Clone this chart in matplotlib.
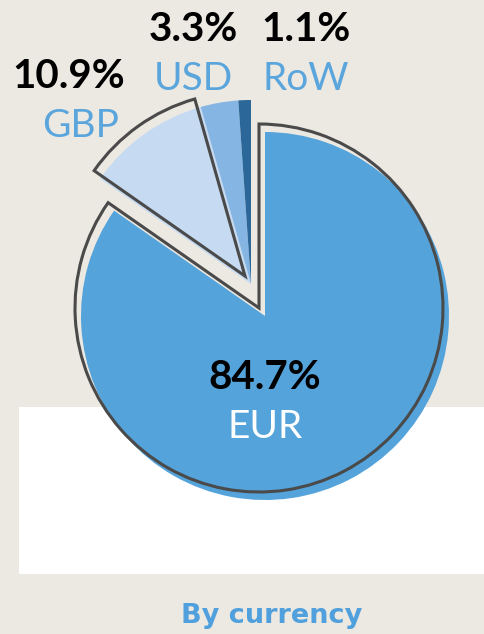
import matplotlib.pyplot as plt
from matplotlib.patches import Rectangle

currencies = ["EUR", "GBP", "USD", "RoW"]
shares = [84.7, 10.9, 3.3, 1.1]
fill_colors = ["#54A3DA", "#C6DBF2", "#85B5E3", "#2B6799"]
outlined = [True, True, False, False]
exploded = [False, True, True, True]

W, H = 485, 634
BG = "#ECE8E2"
EDGE = "#4A4A4A"
LABEL_BLUE = "#5AA5DC"

fig = plt.figure(figsize=(W / 100, H / 100), dpi=100, facecolor=BG)
ax = fig.add_axes([0, 0, 1, 1])
ax.set_facecolor(BG)

# white panel behind the lower half of the pie
ax.add_patch(Rectangle((19, 407), W - 19, 167, facecolor="white", edgecolor="none", zorder=0))

# axis is in pixel coords with y pointing down, so startangle=-90 + counterclock
# gives a pie that starts at 12 o'clock and runs clockwise on screen
cx, cy, r = 259, 308, 184
shadow = (6, 8)
group_shift = (-14, -32)

fills, _ = ax.pie(shares, colors=fill_colors, startangle=-90, counterclock=True,
                  radius=r, center=(cx, cy), wedgeprops=dict(linewidth=0))
lines, _ = ax.pie(shares, colors=fill_colors, startangle=-90, counterclock=True,
                  radius=r, center=(cx, cy),
                  wedgeprops=dict(fill=False, edgecolor=EDGE, linewidth=2.2))

for w_fill, w_line, ex, out in zip(fills, lines, exploded, outlined):
    dx, dy = group_shift if ex else (0, 0)
    w_fill.set_center((cx + dx + shadow[0], cy + dy + shadow[1]))
    w_fill.set_zorder(2)
    w_line.set_center((cx + dx, cy + dy))
    w_line.set_zorder(3)
    w_line.set_visible(out)

ax.set_xlim(0, W)
ax.set_ylim(H, 0)
ax.set_aspect("equal")
ax.axis("off")

pct_font = dict(family="Lato", weight="bold", fontsize=29, color="black", ha="center", va="baseline", zorder=5)
lab_font = dict(family="Lato", weight="normal", fontsize=28, ha="center", va="baseline", zorder=5)

# label anchors (x centre, baseline of percentage, baseline of name)
label_pos = [(265, 389, 438), (69, 88, 137), (193, 41, 90), (306, 41, 90)]
for name, val, (x, y_pct, y_lab) in zip(currencies, shares, label_pos):
    ax.text(x, y_pct, f"{val:.1f}%", **pct_font)
    ax.text(x if name != "GBP" else x + 12, y_lab, name,
            color="white" if name == "EUR" else LABEL_BLUE, **lab_font)

ax.text(272, 623, "By currency", family="DejaVu Sans", weight="bold", fontsize=19.5,
        color="#4FA0DC", ha="center", va="baseline", zorder=5)

fig.savefig("out.png", dpi=100, facecolor=BG)
